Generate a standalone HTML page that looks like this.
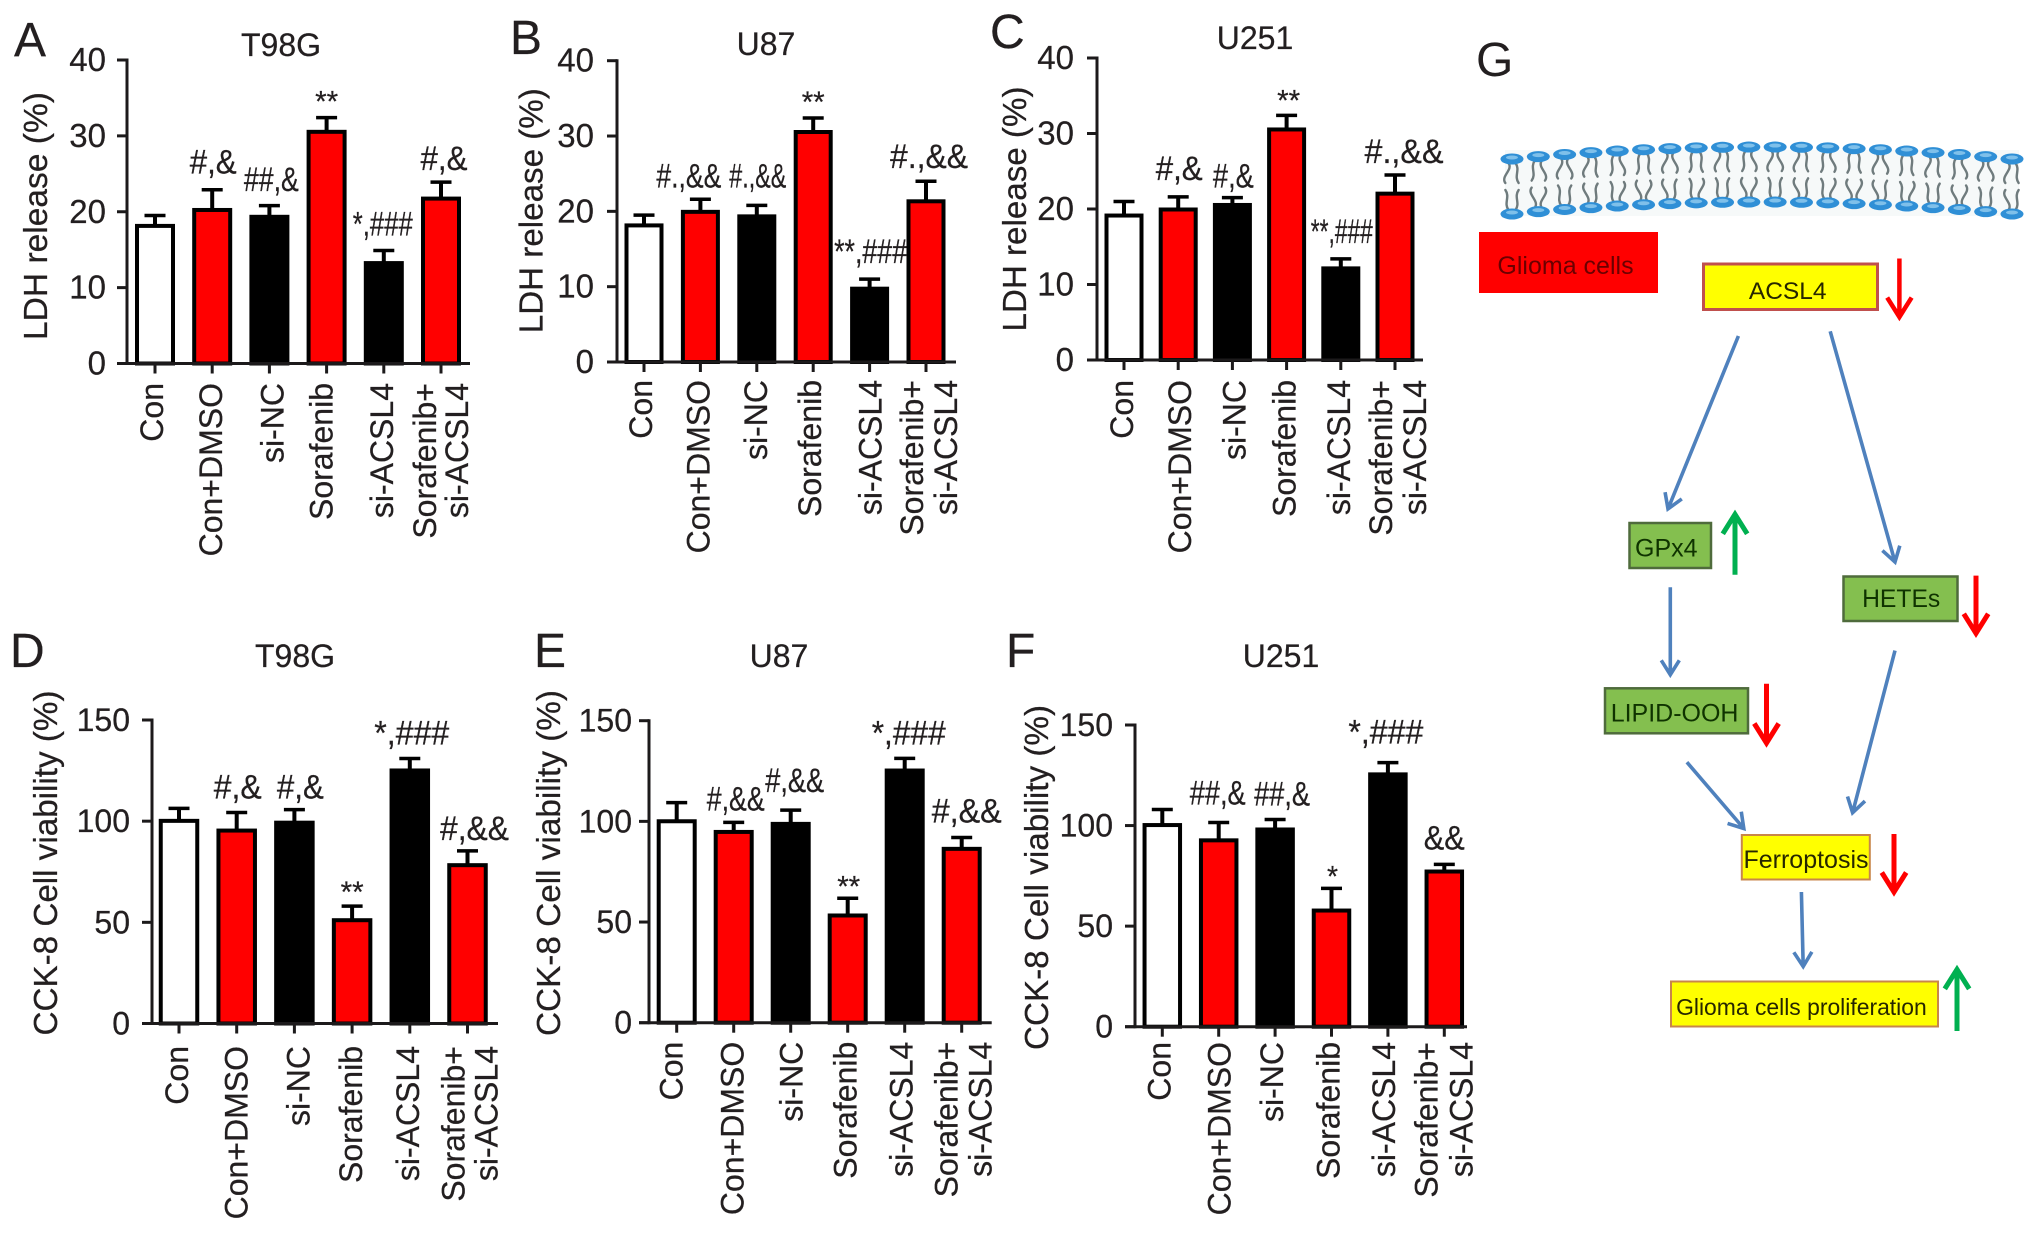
<!DOCTYPE html>
<html lang="en">
<head>
<meta charset="utf-8">
<title>LDH release and CCK-8 viability with ACSL4 pathway</title>
<style>
html,body{margin:0;padding:0;background:#fff;width:2032px;height:1233px;overflow:hidden}
svg{display:block}
text{font-family:"Liberation Sans",Arial,sans-serif;fill:#231f20;stroke:#231f20;stroke-width:.25px}
#diagram text{stroke:none}
</style>
</head>
<body>
<svg id="figure" xmlns="http://www.w3.org/2000/svg" width="2032" height="1233" viewBox="0 0 2032 1233">
  <g id="charts"></g>
  <g id="diagram">
    <g id="membrane"></g>
    <rect x="1479" y="232" width="179" height="61" fill="#ff0000"/>
    <text x="1565.5" y="274" font-size="25" text-anchor="middle" style="fill:#6b0000">Glioma cells</text>
    <rect x="1703.5" y="264" width="174" height="45.500" fill="#ffff00" stroke="#c0504d" stroke-width="3"/>
    <text x="1787.700" y="299" font-size="24.500" text-anchor="middle" style="fill:#262600">ACSL4</text>
    <rect x="1629.500" y="523" width="81.500" height="45" fill="#84bf4f" stroke="#4f6b3c" stroke-width="2.500"/>
    <text x="1666.300" y="556.400" font-size="25" text-anchor="middle" style="fill:#0f3300">GPx4</text>
    <rect x="1843.500" y="576.500" width="114" height="44.500" fill="#84bf4f" stroke="#4f6b3c" stroke-width="2.500"/>
    <text x="1901.200" y="607" font-size="24.700" text-anchor="middle" style="fill:#0f3300">HETEs</text>
    <rect x="1605" y="688.300" width="143" height="45" fill="#84bf4f" stroke="#4f6b3c" stroke-width="2.500"/>
    <text x="1674.600" y="721.500" font-size="25" text-anchor="middle" style="fill:#0f3300">LIPID-OOH</text>
    <rect x="1741.800" y="835" width="128" height="44.500" fill="#ffff00" stroke="#c8864a" stroke-width="2"/>
    <text x="1806" y="868" font-size="25" text-anchor="middle" style="fill:#262600">Ferroptosis</text>
    <rect x="1671" y="981.500" width="267" height="45" fill="#ffff00" stroke="#c8864a" stroke-width="2"/>
    <text x="1801.400" y="1015" font-size="22.900" text-anchor="middle" style="fill:#262600">Glioma cells proliferation</text>
    <text x="1476" y="76" font-size="48">G</text>
    <g id="flow-arrows"></g>
  </g>
</svg>
<script>
// ---------- chart data ----------
const categories = ['Con', 'Con+DMSO', 'si-NC', 'Sorafenib', 'si-ACSL4', ['Sorafenib+', 'si-ACSL4']];
const ldhTicks = [0, 10, 20, 30, 40];
const cckTicks = [0, 50, 100, 150];

const valuesA = [18.2, 20.3, 19.4, 30.6, 13.3, 21.8];
const errorsA = [19.5, 22.9, 20.8, 32.4, 14.9, 23.9];
const notesA = ['', '#,&', '##,&', '**', '*,###', '#,&'];

const valuesB = [18.2, 20.0, 19.4, 30.6, 9.8, 21.4];
const errorsB = [19.5, 21.6, 20.8, 32.4, 11.0, 24.0];
const notesB = ['', '#.,&&', '#.,&&', '**', '**,###', '#.,&&'];

const valuesC = [19.2, 20.0, 20.6, 30.6, 12.2, 22.1];
const errorsC = [21.0, 21.6, 21.5, 32.4, 13.4, 24.5];
const notesC = ['', '#,&', '#,&', '**', '**,###', '#.,&&'];

const valuesD = [100.4, 95.6, 99.5, 51.3, 125.3, 78.5];
const errorsD = [106.3, 104.3, 105.7, 58.0, 131.0, 85.3];
const notesD = ['', '#,&', '#,&', '**', '*,###', '#,&&'];

const valuesE = [100.3, 95.0, 99.0, 53.5, 125.5, 86.6];
const errorsE = [109.3, 99.5, 105.6, 61.8, 131.3, 92.0];
const notesE = ['', '#,&&', '#,&&', '**', '*,###', '#,&&'];

const valuesF = [100.5, 92.9, 98.3, 58.0, 125.7, 77.4];
const errorsF = [108.0, 101.5, 103.0, 68.8, 131.3, 80.7];
const notesF = ['', '##,&', '##,&', '*', '*,###', '&&'];

const barFills = ['#ffffff', '#ff0000', '#000000', '#ff0000', '#000000', '#ff0000'];
const ldhAxisTitle = 'LDH release (%)';
const cckAxisTitle = 'CCK-8 Cell viability (%)';

// ---------- panel layout ----------
const panels = [
  {id:'a', letter:'A', lx:14, ly:56, title:'T98G', tx:281, ty:56, yTitle:ldhAxisTitle, values:valuesA, errors:errorsA, notes:notesA, ticks:ldhTicks,
   axisX:127, yTop:60, y0:363.5, xStart:155, step:57.2, xEnd:470, barW:36, tickDx:21, tickFont:33,
   titleX:47, titleY:216, titleLen:248, labelY:383, labelDx:[8,10,14,6,9,[-5,27]],
   noteFmt:[null,[1,16,47],[2,14.5,55],[0,6,23],[-1,15,60],[3,12,47]]},
  {id:'b', letter:'B', lx:510, ly:54, title:'U87', tx:766, ty:55, yTitle:ldhAxisTitle, values:valuesB, errors:errorsB, notes:notesB, ticks:ldhTicks,
   axisX:617, yTop:60.7, y0:362, xStart:644, step:56.4, xEnd:956, barW:35, tickDx:23, tickFont:33,
   titleX:542.7, titleY:210.7, titleLen:245, labelY:380, labelDx:[8,9,10,8,12,[-3,31]],
   noteFmt:[null,[-11.5,12,65],[1,18,57],[0,6,23],[1,16,73],[3,13,78]]},
  {id:'c', letter:'C', lx:990, ly:48, title:'U251', tx:1255, ty:49, yTitle:ldhAxisTitle, values:valuesC, errors:errorsC, notes:notesC, ticks:ldhTicks,
   axisX:1097, yTop:58, y0:360, xStart:1124, step:54.2, xEnd:1423, barW:35, tickDx:23, tickFont:33,
   titleX:1026, titleY:209, titleLen:245, labelY:380, labelDx:[9,13,13,9,9,[-3,31]],
   noteFmt:[null,[1,17,47],[1,10,41],[2,5,23],[1,16,62],[9,12,79]]},
  {id:'d', letter:'D', lx:10, ly:667, title:'T98G', tx:295, ty:667, yTitle:cckAxisTitle, values:valuesD, errors:errorsD, notes:notesD, ticks:cckTicks,
   axisX:152, yTop:720, y0:1023.5, xStart:179, step:57.7, xEnd:498, barW:36.500, tickDx:22, tickFont:32,
   titleX:57, titleY:863, titleLen:345, labelY:1046, labelDx:[9,11,15,10,9,[-3,30]],
   noteFmt:[null,[1,14,48],[6,11,47],[0,4,23],[2,14,75],[7,11,69]]},
  {id:'e', letter:'E', lx:534, ly:667, title:'U87', tx:779, ty:667, yTitle:cckAxisTitle, values:valuesE, errors:errorsE, notes:notesE, ticks:cckTicks,
   axisX:649, yTop:720.7, y0:1022.7, xStart:676.7, step:57, xEnd:991.7, barW:36, tickDx:17, tickFont:32,
   titleX:560, titleY:863, titleLen:346, labelY:1041.7, labelDx:[6,10,12,9,8,[-4,30]],
   noteFmt:[null,[2,12,58],[4,18,59],[1,2,23],[4,14,74],[5,15,70]]},
  {id:'f', letter:'F', lx:1006, ly:667, title:'U251', tx:1281, ty:667, yTitle:cckAxisTitle, values:valuesF, errors:errorsF, notes:notesF, ticks:cckTicks,
   axisX:1135, yTop:725, y0:1026.7, xStart:1162.3, step:56.4, xEnd:1467, barW:35.500, tickDx:22, tickFont:32,
   titleX:1048, titleY:877.5, titleLen:345, labelY:1042, labelDx:[8,12,8,8,7,[-7,28]],
   noteFmt:[null,[-1,18,56],[7,14,56],[1,2,11],[-2,19,75],[0,15,41]]}
];

// ---------- drawing ----------
const NS = 'http://www.w3.org/2000/svg';
const INK = '#1c1a1b';

function make(parent, tag, name, attrs) {
  const el = document.createElementNS(NS, tag);
  
  
  for (const k in attrs) el.setAttribute(k, attrs[k]);
  parent.appendChild(el);
  return el;
}
function label(parent, name, str, attrs) {
  const el = make(parent, 'text', name, attrs);
  el.textContent = str;
  return el;
}
function rotatedLabel(parent, name, str, x, y, size, anchor, len) {
  const attrs = {x: x, y: y, 'font-size': size, 'text-anchor': anchor, transform: 'rotate(-90 ' + x + ' ' + y + ')'};
  if (len) { attrs.textLength = len; attrs.lengthAdjust = 'spacingAndGlyphs'; }
  return label(parent, name, str, attrs);
}

function drawPanel(p) {
  const root = document.getElementById('charts');
  const g = make(root, 'g', 'panel-' + p.id, {});
  const maxTick = p.ticks[p.ticks.length - 1];
  const yScale = v => p.y0 - (v / maxTick) * (p.y0 - p.yTop);
  const xScale = i => p.xStart + i * p.step;

  label(g, 'panel-letter-' + p.id, p.letter, {x: p.lx, y: p.ly, 'font-size': 48});
  label(g, 'chart-title-' + p.id, p.title, {x: p.tx, y: p.ty, 'font-size': 32, 'text-anchor': 'middle'});
  rotatedLabel(g, 'y-axis-title-' + p.id, p.yTitle, p.titleX, p.titleY, 33, 'middle', p.titleLen);

  p.values.forEach((v, i) => {
    const x = xScale(i);
    const top = yScale(v);
    const errTop = yScale(p.errors[i]);
    make(g, 'line', 'error-bar-' + p.id + '-' + i, {x1: x, x2: x, y1: top, y2: errTop, stroke: '#000', 'stroke-width': 4});
    make(g, 'line', 'error-cap-' + p.id + '-' + i, {x1: x - 10.5, x2: x + 10.5, y1: errTop, y2: errTop, stroke: '#000', 'stroke-width': 3.5});
    make(g, 'rect', 'bar-' + p.id + '-' + i, {x: x - p.barW / 2, y: top + 0.5, width: p.barW, height: Math.max(0, p.y0 - top - 0.5), fill: barFills[i], stroke: '#000', 'stroke-width': 4});
    const note = p.notes[i];
    const fmt = p.noteFmt[i];
    if (note && fmt) {
      const isStars = /^\*+$/.test(note);
      label(g, 'significance-label-' + p.id + '-' + i, note, {
        x: x + fmt[0], y: errTop - fmt[1], 'font-size': isStars ? 30 : 34, 'text-anchor': 'middle',
        textLength: fmt[2], lengthAdjust: 'spacingAndGlyphs'
      });
    }
  });

  make(g, 'line', 'y-axis-' + p.id, {x1: p.axisX, x2: p.axisX, y1: p.yTop - 1.5, y2: p.y0 + 1.5, stroke: INK, 'stroke-width': 3});
  make(g, 'line', 'x-axis-' + p.id, {x1: p.axisX - 10, x2: p.xEnd, y1: p.y0, y2: p.y0, stroke: INK, 'stroke-width': 3});

  p.ticks.forEach(t => {
    const y = yScale(t);
    make(g, 'line', 'y-tick-' + p.id + '-' + t, {x1: p.axisX - 10, x2: p.axisX, y1: y, y2: y, stroke: INK, 'stroke-width': 3});
    label(g, 'y-tick-label-' + p.id + '-' + t, String(t), {x: p.axisX - p.tickDx, y: y + 11, 'font-size': p.tickFont, 'text-anchor': 'end'});
  });

  categories.forEach((c, i) => {
    const x = xScale(i);
    make(g, 'line', 'x-tick-' + p.id + '-' + i, {x1: x, x2: x, y1: p.y0, y2: p.y0 + 10, stroke: INK, 'stroke-width': 3});
    const lines = Array.isArray(c) ? c : [c];
    const dx = Array.isArray(p.labelDx[i]) ? p.labelDx[i] : [p.labelDx[i]];
    lines.forEach((s, j) => {
      rotatedLabel(g, 'x-tick-label-' + p.id + '-' + i + '-' + j, s, x + dx[j], p.labelY, 32, 'end');
    });
  });
}
panels.forEach(drawPanel);

// ---------- pathway arrows ----------
const BLUE = '#4f81bd', RED = '#ff0000', GREEN = '#00b050';
const flowArrows = [
  ['arrow-acsl4-to-gpx4', 1738.4, 336, 1668, 508.9, BLUE, 3.6, 17],
  ['arrow-acsl4-to-hetes', 1830.2, 331.3, 1895, 562, BLUE, 3.6, 17],
  ['arrow-gpx4-to-lipid-ooh', 1670.3, 587.2, 1670.3, 674.7, BLUE, 3.6, 17],
  ['arrow-lipid-ooh-to-ferroptosis', 1686.9, 762.2, 1743.8, 828.5, BLUE, 3.6, 17],
  ['arrow-hetes-to-ferroptosis', 1895, 650.6, 1852.6, 812.7, BLUE, 3.6, 17],
  ['arrow-ferroptosis-to-proliferation', 1801.4, 892, 1803.2, 966.5, BLUE, 3.6, 17],
  ['acsl4-down-arrow', 1899.4, 258.5, 1899.4, 317, RED, 4.5, 23],
  ['gpx4-up-arrow', 1735, 574.8, 1735, 514.3, GREEN, 5, 23],
  ['hetes-down-arrow', 1976, 575.6, 1976, 633.3, RED, 5, 23],
  ['lipid-ooh-down-arrow', 1766.5, 683.7, 1766.5, 743, RED, 5, 23],
  ['ferroptosis-down-arrow', 1894, 834, 1894, 892, RED, 5, 23],
  ['proliferation-up-arrow', 1957, 1031, 1957, 969.4, GREEN, 5, 23]
];
const arrowRoot = document.getElementById('flow-arrows');
flowArrows.forEach(a => {
  const [name, x1, y1, x2, y2, color, w, head] = a;
  const ang = Math.atan2(y2 - y1, x2 - x1);
  const spread = 0.56;
  const hx1 = x2 - head * Math.cos(ang - spread), hy1 = y2 - head * Math.sin(ang - spread);
  const hx2 = x2 - head * Math.cos(ang + spread), hy2 = y2 - head * Math.sin(ang + spread);
  make(arrowRoot, 'path', name, {
    d: 'M' + x1 + ' ' + y1 + 'L' + x2 + ' ' + y2 + 'M' + hx1 + ' ' + hy1 + 'L' + x2 + ' ' + y2 + 'L' + hx2 + ' ' + hy2,
    fill: 'none', stroke: color, 'stroke-width': w, 'stroke-linejoin': 'miter'
  });
});

// ---------- lipid bilayer ----------
const memRoot = document.getElementById('membrane');
const memLeft = 1512, memRight = 2012, memCount = 20;
const tailPhase = [1, -1, 1, 1, -1, -1, 1, -1];
make(memRoot, 'rect', 'membrane-background', {x: 1505, y: 150, width: 514, height: 66, fill: '#f6f9f9'});
function arcOffset(x) {
  const t = (x - (memLeft + memRight) / 2) / ((memRight - memLeft) / 2);
  return t * t;
}
for (let i = 0; i < memCount; i++) {
  const x = memLeft + i * (memRight - memLeft) / (memCount - 1);
  const off = arcOffset(x) * 12;
  [[147 + off, 1, 'top'], [202 + off, -1, 'bottom']].forEach((row, r) => {
    const y = row[0], dir = row[1], side = row[2];
    [-7, 7].forEach((dx, k) => {
      const sx = x + dx * 0.5, sy = y + dir * 4;
      const ey = sy + dir * 20;
      const phase = tailPhase[(i + k * 3 + r * 5) % tailPhase.length];
      const lean = dx * 0.45;
      make(memRoot, 'path', 'lipid-tail-' + side + '-' + i + '-' + k, {
        d: 'M' + sx + ' ' + sy + 'C' + (sx + 5 * phase) + ' ' + (sy + dir * 7) + ' ' + (sx + lean - 5 * phase) + ' ' + (sy + dir * 13) + ' ' + (sx + lean) + ' ' + ey,
        fill: 'none', stroke: '#6f7b7d', 'stroke-width': 2.4, 'stroke-linecap': 'round'
      });
    });
    make(memRoot, 'ellipse', 'lipid-head-' + side + '-' + i, {cx: x, cy: y, rx: 11.5, ry: 5.5, fill: '#2f8fd6'});
    make(memRoot, 'ellipse', 'lipid-head-shine-' + side + '-' + i, {cx: x, cy: y - 1.5, rx: 6, ry: 2, fill: '#7fc0ea'});
  });
}
</script>
</body>
</html>
